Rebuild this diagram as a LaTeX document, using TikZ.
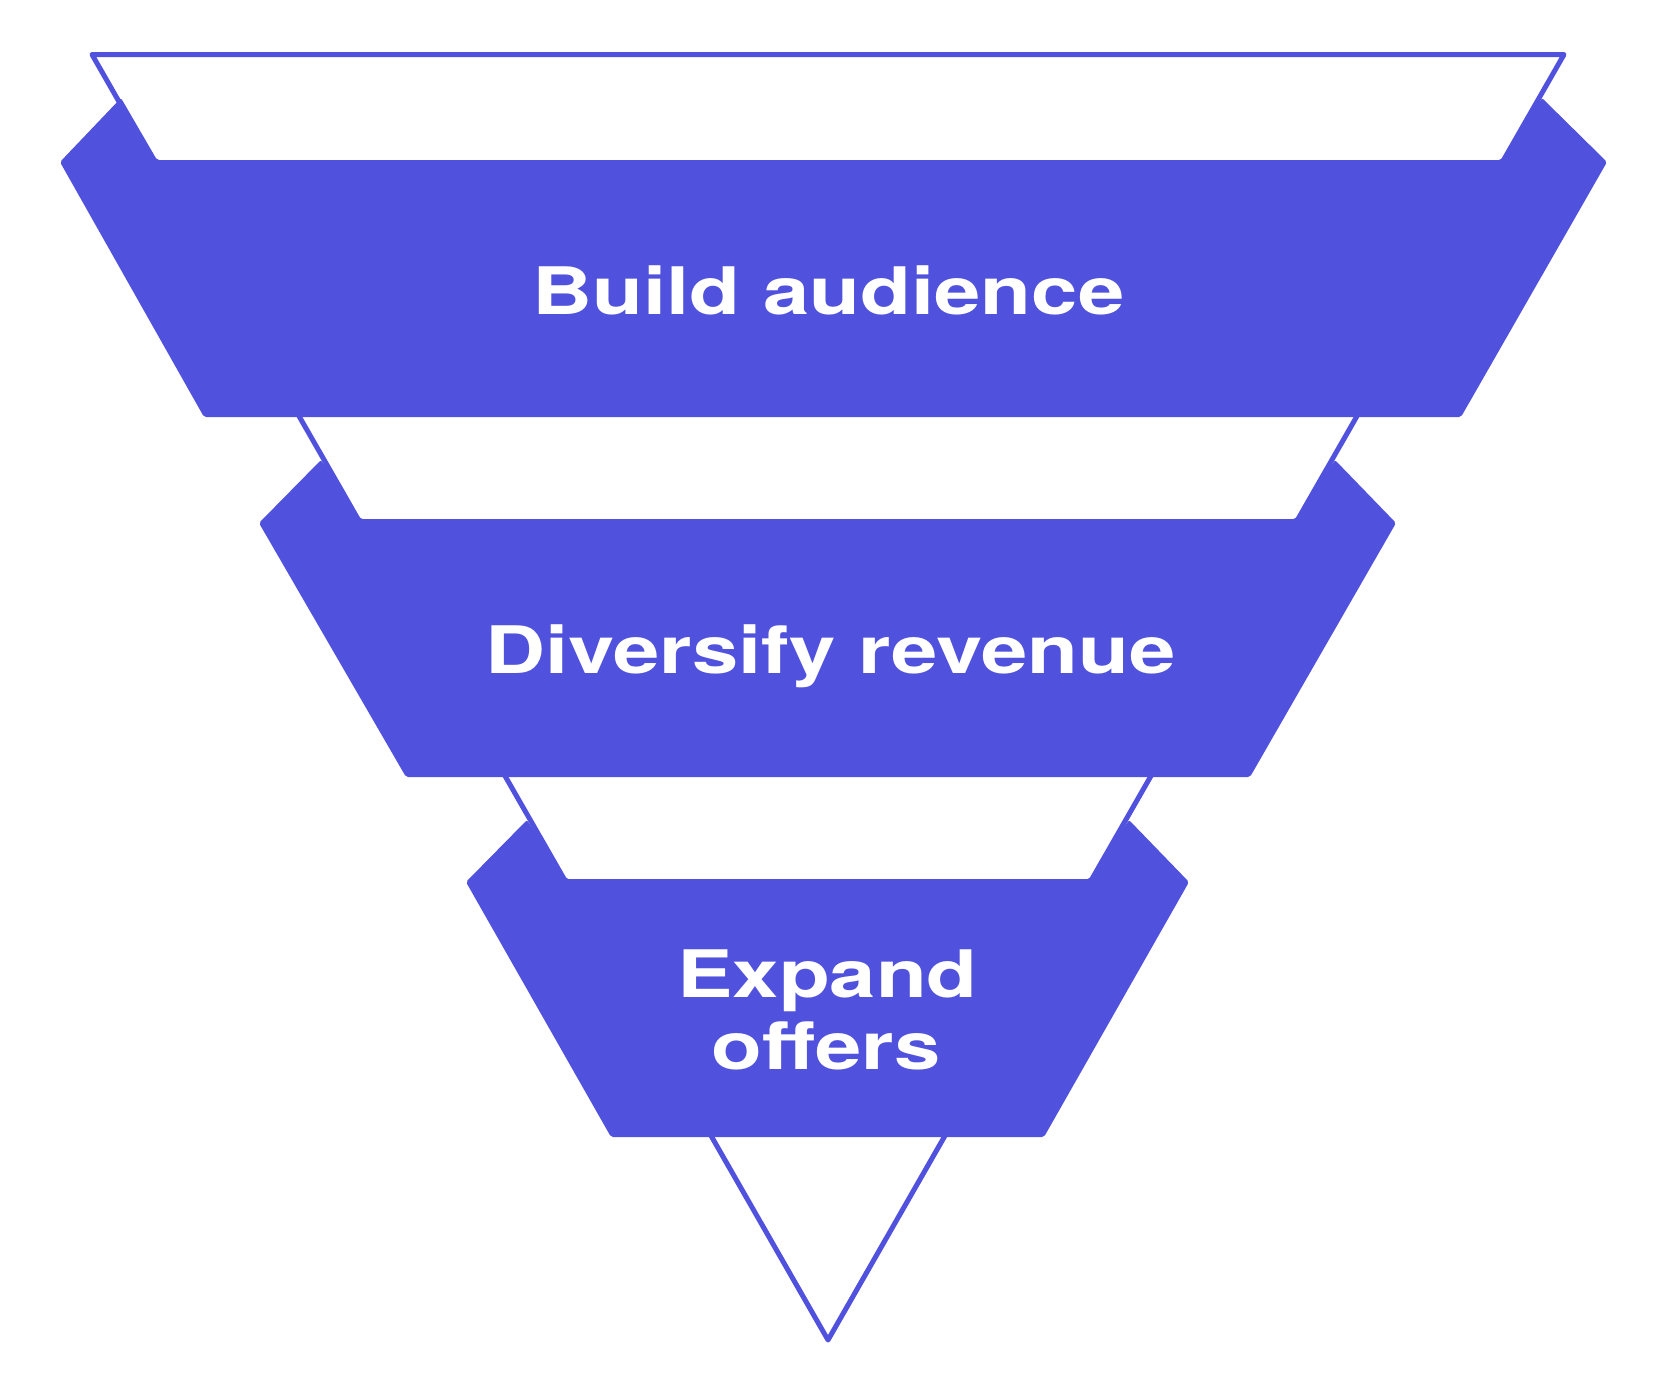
\documentclass[tikz,border=0pt]{standalone}
\usepackage{fontspec}
\newfontfamily\labelfont[FakeStretch=1.27]{TeX Gyre Heros}
\definecolor{funnel}{RGB}{80,82,222}
\begin{document}
\begin{tikzpicture}[x=1pt,y=-1pt,
  band/.style={fill=funnel, rounded corners=2pt},
  outline/.style={draw=funnel, line width=5pt, line join=round},
  lbl/.style={text=white, font=\labelfont\bfseries\fontsize{65.5}{72}\selectfont, inner sep=0pt, anchor=base}]
\useasboundingbox (0,0) rectangle (1663,1392);
% funnel outline
\draw[outline] (92,54.5) -- (1564,54.5) -- (828,1340) -- cycle;
% band 1
\fill[band] (121,98) -- (157,160) -- (1501,160) -- (1542,98) -- (1607,162)
  -- (1461,417) -- (204,417) -- (60,162) -- cycle;
% band 2
\fill[band] (321,460) -- (360.5,519) -- (1295.5,519) -- (1335,460) -- (1396,523)
  -- (1250,777) -- (406,777) -- (259,523) -- cycle;
% band 3
\fill[band] (527,820) -- (566.5,879) -- (1089.5,879) -- (1129,820) -- (1189,882)
  -- (1044,1137) -- (611,1137) -- (466,882) -- cycle;
% labels
\node[lbl] (t1) at (828.5,314) {Build audience};
\node[lbl] (t2) at (830.5,673) {Diversify revenue};
\node[lbl] (t3a) at (827.5,997) {Expand};
\node[lbl] (t3b) at (826,1069) {offers};
\end{tikzpicture}
\end{document}
